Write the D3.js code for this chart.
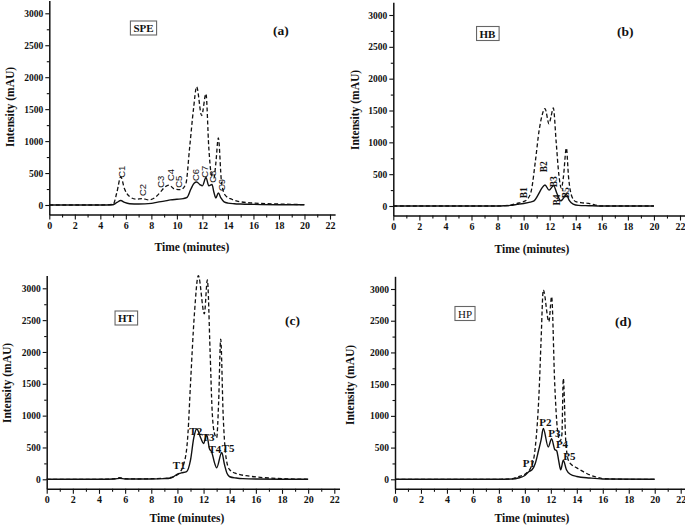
<!DOCTYPE html>
<html><head><meta charset="utf-8">
<script src="https://cdn.jsdelivr.net/npm/d3@7"></script>
<style>body{margin:0;background:#fff} svg{display:block}</style>
</head><body><svg id="c" width="685" height="526"></svg>
<script>
// ---------- data ----------
const xTickValues = [0,2,4,6,8,10,12,14,16,18,20,22];
const xMinorTicks = [1,3,5,7,9,11,13,15,17,19,21];
const yTickValues = [0,500,1000,1500,2000,2500,3000];
const yMinorTicks = [250,750,1250,1750,2250,2750];

// (a) SPE
const speDashT  = [0,2,4,5.0,5.3,5.6,5.9,6.3,6.8,7.3,7.8,8.3,8.7,9.0,9.4,9.8,10.3,10.7,11.0,11.3,11.55,11.94,12.28,12.5,12.7,12.9,13.05,13.25,13.5,13.8,14.3,15,16,17,18,19,20];
const speDashV  = [0,0,0,10,200,440,250,130,90,100,80,120,200,270,310,250,240,330,900,1500,1850,1400,1740,900,480,420,650,1050,350,150,90,50,30,20,15,10,5];
const speSolidT = [0,2,4,5.0,5.3,5.6,5.9,6.3,7,8,8.5,9,9.5,10,10.5,10.8,11.1,11.35,11.55,11.8,12.0,12.28,12.5,12.75,12.9,13.05,13.25,13.45,13.7,14,14.5,15,16,18,20];
const speSolidV = [0,0,0,5,40,70,40,20,15,25,45,60,80,90,100,120,250,340,360,320,300,430,300,320,200,110,190,110,50,30,20,15,10,5,5];
const speLabels = ["C1","C2","C3","C4","C5","C6","C7","C8","C9"];
const speLabelT = [5.75,7.37,8.8,9.6,10.24,11.55,12.28,12.9,13.59];
const speLabelV = [521,235,365,470,365,470,521,443,313];

// (b) HB
const hbDashT  = [0,4,8,8.5,9,9.5,10,10.3,10.6,10.9,11.2,11.45,11.64,11.95,12.1,12.28,12.5,12.7,12.9,13.05,13.28,13.45,13.7,14,14.5,15,15.5,16,18,20];
const hbDashV  = [0,0,0,5,15,40,70,110,250,700,1200,1450,1530,1290,1400,1540,1000,500,280,450,910,450,150,70,50,40,15,0,0,0];
const hbSolidT = [0,4,8,8.5,9,9.5,10,10.5,10.8,11.1,11.4,11.64,11.95,12.3,12.55,12.85,13.05,13.28,13.5,13.8,14.2,15,16,20];
const hbSolidV = [0,0,0,3,10,25,40,60,80,170,280,330,250,320,200,80,120,180,90,30,10,5,0,0];
const hbLabels = ["B1","B2","B3","B4","B5"];
const hbLabelT = [10.1,11.64,12.41,12.66,13.3];
const hbLabelV = [209,617,382,94,209];

// (c) HT
const htDashT  = [0,4,5.2,5.6,6.0,7,8,9,9.5,10,10.5,10.8,11.0,11.3,11.6,12.06,12.29,12.5,12.65,12.8,13.0,13.15,13.31,13.5,13.75,14.0,14.5,15.5,17,18,20];
const htDashV  = [0,0,10,25,10,5,10,15,30,70,250,700,1500,2600,3200,2600,3130,2000,1100,750,650,1200,2200,1000,300,150,90,50,20,10,0];
const htSolidT = [0,4,5.2,5.6,6.0,7,8,9,9.5,10,10.3,10.7,11.0,11.25,11.48,11.8,12.0,12.24,12.45,12.62,12.85,13.0,13.39,13.6,13.8,14.0,14.5,15,16,20];
const htSolidV = [0,0,5,15,5,5,5,10,20,80,100,120,300,650,790,640,560,700,480,430,250,180,420,230,90,40,20,10,5,0];
const htLabels = ["T1","T2","T3","T4","T5"];
const htLabelT = [9.64,10.91,11.86,12.37,13.39];
const htLabelV = [157,696,601,408,434];

// (d) HP
const hpDashT  = [0,4,8,9,9.2,9.5,10,10.5,10.8,11.1,11.25,11.42,11.85,12.06,12.3,12.5,12.7,12.85,12.96,13.15,13.35,13.6,14,14.5,15,15.5,16,18,20];
const hpDashV  = [0,0,0,5,20,40,80,200,500,1400,2200,2985,2485,2880,1500,800,600,700,1590,600,300,230,180,120,70,35,10,0,0];
const hpSolidT = [0,4,8,9,9.5,10,10.3,10.55,10.8,11.05,11.25,11.42,11.8,12.06,12.3,12.45,12.6,12.76,12.96,13.2,13.5,14,15,16,20];
const hpSolidV = [0,0,0,5,20,60,120,150,250,450,620,800,510,640,470,450,300,150,300,150,80,45,20,5,0];
const hpLabels = ["P1","P2","P3","P4","P5"];
const hpLabelT = [9.83,11.11,11.8,12.39,12.96];
const hpLabelV = [198,845,672,489,304];

// ---------- layout ----------
const panels = [
  {x0:49.3, x22:330, y0:205, y3000:13.3, dashT:speDashT, dashV:speDashV, solT:speSolidT, solV:speSolidV,
   labels:speLabels, lt:speLabelT, lv:speLabelV, lstyle:"rotSans",
   name:"SPE", nameX:143.5, nameY:32, nameBold:true, letter:"(a)", letterX:273, letterY:35,
   xTitleX:192, xTitleY:251, yTitleX:11, yTitleY:107},
  {x0:393.3, x22:680, y0:206, y3000:15, dashT:hbDashT, dashV:hbDashV, solT:hbSolidT, solV:hbSolidV,
   labels:hbLabels, lt:hbLabelT, lv:hbLabelV, lstyle:"rotSerif",
   name:"HB", nameX:487.5, nameY:37.5, nameBold:true, letter:"(b)", letterX:617, letterY:36,
   xTitleX:532, xTitleY:253, yTitleX:356, yTitleY:110},
  {x0:46.7, x22:334.3, y0:479.3, y3000:288.3, dashT:htDashT, dashV:htDashV, solT:htSolidT, solV:htSolidV,
   labels:htLabels, lt:htLabelT, lv:htLabelV, lstyle:"horiz",
   name:"HT", nameX:126, nameY:322, nameBold:true, letter:"(c)", letterX:285, letterY:325,
   xTitleX:187, xTitleY:522, yTitleX:8, yTitleY:383},
  {x0:395, x22:680.7, y0:479.3, y3000:289, dashT:hpDashT, dashV:hpDashV, solT:hpSolidT, solV:hpSolidV,
   labels:hpLabels, lt:hpLabelT, lv:hpLabelV, lstyle:"horiz",
   name:"HP", nameX:465, nameY:317.5, nameBold:false, letter:"(d)", letterX:615, letterY:326,
   xTitleX:532, xTitleY:522, yTitleX:351, yTitleY:385}
];

const SERIF = "'Liberation Serif','Times New Roman',serif";
const SANS = "'Liberation Sans',Arial,sans-serif";
const svg = d3.select("#c");

panels.forEach(p => {
  const kx = (p.x22 - p.x0) / 22;
  const ky = (p.y0 - p.y3000) / 3000;
  const x = d3.scaleLinear().domain([0, 22.4]).range([p.x0, p.x0 + 22.4 * kx]);
  const y = d3.scaleLinear().domain([-150, 3200]).range([p.y0 + 150 * ky, p.y0 - 3200 * ky]);
  const g = svg.append("g");

  // axes
  const xAxis = g.append("g").attr("transform", `translate(0,${y(-150)})`)
    .call(d3.axisBottom(x).tickValues(xTickValues).tickSize(5).tickSizeOuter(0).tickPadding(2).tickFormat(d3.format("d")));
  g.append("g").attr("transform", `translate(0,${y(-150)})`)
    .call(d3.axisBottom(x).tickValues(xMinorTicks).tickSize(3).tickSizeOuter(0).tickFormat(""))
    .select(".domain").remove();
  const yAxis = g.append("g").attr("transform", `translate(${x(0)},0)`)
    .call(d3.axisLeft(y).tickValues(yTickValues).tickSize(4).tickSizeOuter(0).tickPadding(2).tickFormat(d3.format("d")));
  g.append("g").attr("transform", `translate(${x(0)},0)`)
    .call(d3.axisLeft(y).tickValues(yMinorTicks).tickSize(2.5).tickSizeOuter(0).tickFormat(""))
    .select(".domain").remove();
  g.selectAll(".domain").attr("stroke", "#111").attr("stroke-width", 1.5);
  g.selectAll(".tick line").attr("stroke", "#111").attr("stroke-width", 1.1);
  xAxis.selectAll("text").attr("font-family", SERIF).attr("font-weight", "bold").attr("font-size", 10).attr("fill", "#111");
  yAxis.selectAll("text").attr("font-family", SERIF).attr("font-weight", "bold").attr("font-size", 9.5).attr("fill", "#111");

  // titles
  g.append("text").attr("x", p.xTitleX).attr("y", p.xTitleY).attr("text-anchor", "middle")
    .attr("font-family", SERIF).attr("font-weight", "bold").attr("font-size", 11.5).attr("fill", "#111")
    .text("Time (minutes)");
  g.append("text").attr("transform", `translate(${p.yTitleX},${p.yTitleY}) rotate(-90)`)
    .attr("text-anchor", "middle").attr("dominant-baseline", "middle")
    .attr("font-family", SERIF).attr("font-weight", "bold").attr("font-size", 11.5).attr("fill", "#111")
    .text("Intensity (mAU)");

  // lines
  const line = d3.line().x(d => x(d[0])).y(d => y(d[1])).curve(d3.curveMonotoneX);
  g.append("path").datum(d3.zip(p.dashT, p.dashV)).attr("d", line)
    .attr("fill", "none").attr("stroke", "#111").attr("stroke-width", 1.3).attr("stroke-dasharray", "4,2.5");
  g.append("path").datum(d3.zip(p.solT, p.solV)).attr("d", line)
    .attr("fill", "none").attr("stroke", "#111").attr("stroke-width", 1.4);

  // peak labels
  p.labels.forEach((lab, i) => {
    const px = x(p.lt[i]), py = y(p.lv[i]);
    if (p.lstyle === "horiz") {
      g.append("text").attr("x", px).attr("y", py).text(lab)
        .attr("font-family", SERIF).attr("font-weight", "bold").attr("font-size", 11).attr("fill", "#111");
    } else {
      g.append("text").attr("transform", `translate(${px},${py}) rotate(-90)`)
        .attr("text-anchor", "middle").attr("dominant-baseline", "middle").text(lab)
        .attr("font-family", p.lstyle === "rotSans" ? SANS : SERIF)
        .attr("font-weight", p.lstyle === "rotSans" ? "normal" : "bold")
        .attr("font-size", 9.5).attr("fill", "#111");
    }
  });

  // boxed sample name
  const nt = g.append("text").attr("x", p.nameX).attr("y", p.nameY).attr("text-anchor", "middle")
    .attr("font-family", SERIF).attr("font-weight", p.nameBold ? "bold" : "normal").attr("font-size", 11).attr("fill", "#111")
    .text(p.name);
  const bb = nt.node().getBBox();
  g.insert("rect", () => nt.node()).attr("x", bb.x - 3).attr("y", bb.y - 1).attr("width", bb.width + 6).attr("height", bb.height + 2)
    .attr("fill", "#fff").attr("stroke", "#666").attr("stroke-width", 1.1);

  // panel letter
  g.append("text").attr("x", p.letterX).attr("y", p.letterY)
    .attr("font-family", SERIF).attr("font-weight", "bold").attr("font-size", 13.5).attr("fill", "#111")
    .text(p.letter);
});
</script>
</body></html>
